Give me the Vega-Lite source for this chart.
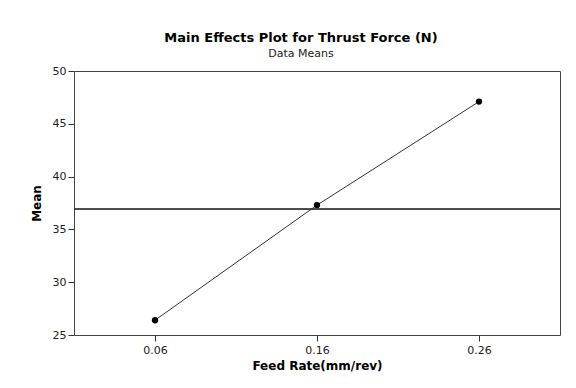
{
  "$schema": "https://vega.github.io/schema/vega-lite/v6.json",
  "autosize": "none",
  "width": 486,
  "height": 264,
  "padding": {"left": 74, "top": 71, "right": 16, "bottom": 53},
  "background": "white",
  "title": {
    "text": "Main Effects Plot for Thrust Force (N)",
    "subtitle": "Data Means",
    "font": "DejaVu Sans",
    "fontSize": 13,
    "fontWeight": "bold",
    "color": "black",
    "subtitleFont": "DejaVu Sans",
    "subtitleFontSize": 11,
    "subtitleColor": "#222",
    "subtitlePadding": 3,
    "anchor": "middle",
    "offset": 6,
    "dx": -16
  },
  "data": {
    "values": [
      {"feed": "0.06", "mean": 26.4},
      {"feed": "0.16", "mean": 37.3},
      {"feed": "0.26", "mean": 47.1}
    ]
  },
  "config": {
    "view": {"stroke": "#444", "strokeWidth": 1},
    "axis": {
      "grid": false,
      "domain": false,
      "tickColor": "#333",
      "tickSize": 6,
      "labelFont": "DejaVu Sans",
      "labelFontSize": 11,
      "labelColor": "#222",
      "titleFont": "DejaVu Sans",
      "titleFontSize": 12,
      "titleFontWeight": "bold",
      "titleColor": "black"
    }
  },
  "layer": [
    {
      "mark": {"type": "line", "color": "#333", "strokeWidth": 1},
      "encoding": {
        "x": {
          "field": "feed", "type": "ordinal",
          "scale": {"type": "point", "padding": 0.5},
          "axis": {"title": "Feed Rate(mm/rev)", "labelAngle": 0, "labelPadding": 3, "titlePadding": 5}
        },
        "y": {
          "field": "mean", "type": "quantitative",
          "scale": {"domain": [25, 50], "nice": false, "zero": false},
          "axis": {"title": "Mean", "values": [25, 30, 35, 40, 45, 50], "labelPadding": 2, "titlePadding": 9}
        }
      }
    },
    {
      "mark": {"type": "point", "filled": true, "color": "black", "size": 40, "opacity": 1},
      "encoding": {
        "x": {"field": "feed", "type": "ordinal"},
        "y": {"field": "mean", "type": "quantitative"}
      }
    },
    {
      "mark": {"type": "rule", "color": "#333", "strokeWidth": 1},
      "encoding": {
        "y": {"datum": 36.93, "type": "quantitative"}
      }
    }
  ]
}
